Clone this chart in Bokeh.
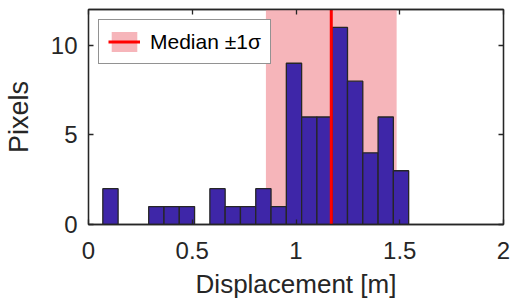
import numpy as np
from bokeh.plotting import figure
from bokeh.models import LinearAxis, FixedTicker, Legend, LegendItem, Range1d
from bokeh.embed import file_html
from bokeh.resources import INLINE

# ---- data ----
counts = [2, 0, 0, 1, 1, 1, 0, 2, 1, 1, 2, 1, 9, 6, 6, 11, 8, 4, 6, 3]
bin_start = 0.069
bin_width = 0.0737
median = 1.17
sigma = 0.315
x_ticks = [0, 0.5, 1, 1.5, 2]
x_tick_labels = ["0", "0.5", "1", "1.5", "2"]
y_ticks = [0, 5, 10]
y_tick_labels = ["0", "5", "10"]
x_lim = (0, 2)
y_lim = (0, 12)

edges = bin_start + bin_width * np.arange(len(counts) + 1)
cnt = np.array(counts)
mask = cnt > 0
lefts = edges[:-1][mask]
rights = edges[1:][mask]
tops = cnt[mask]

AX = "#262626"
FONT = "Liberation Sans"

p = figure(width=512, height=305, output_backend="svg", toolbar_location=None,
           x_range=Range1d(*x_lim), y_range=Range1d(*y_lim),
           min_border_left=88, min_border_right=9, min_border_top=9, min_border_bottom=81,
           x_axis_label="Displacement [m]", y_axis_label="Pixels")
p.background_fill_color = "white"
p.border_fill_color = "white"
p.xgrid.visible = False
p.ygrid.visible = False
p.outline_line_color = AX
p.outline_line_width = 1.3

shade = p.quad(left=[median - sigma], right=[median + sigma], bottom=[y_lim[0]], top=[y_lim[1]],
               fill_color="#F6B5BA", line_color=None)
p.quad(left=lefts, right=rights, bottom=0, top=tops,
       fill_color="#3E26A8", line_color=AX, line_width=1.3)
medline = p.line(x=[median, median], y=[y_lim[0], y_lim[1]], line_color="#FF0000", line_width=3)

def style_axis(ax, show_labels=True):
    ax.axis_line_color = AX
    ax.axis_line_width = 1.3
    ax.major_tick_line_color = AX
    ax.major_tick_line_width = 1.3
    ax.major_tick_in = 5
    ax.major_tick_out = 0
    ax.minor_tick_line_color = None
    ax.major_label_text_color = AX
    ax.major_label_text_font = FONT
    ax.axis_label_text_font = FONT
    ax.axis_label_text_color = AX
    ax.axis_label_text_font_style = "normal"
    if not show_labels:
        ax.major_label_text_color = None
        ax.major_label_standoff = 0

xa = p.xaxis[0]
ya = p.yaxis[0]
xa.ticker = FixedTicker(ticks=x_ticks)
ya.ticker = FixedTicker(ticks=y_ticks)
xa.major_label_overrides = {t: s for t, s in zip(x_ticks, x_tick_labels)}
ya.major_label_overrides = {t: s for t, s in zip(y_ticks, y_tick_labels)}
style_axis(xa)
style_axis(ya)
xa.major_label_text_font_size = "24px"
ya.major_label_text_font_size = "24px"
xa.axis_label_text_font_size = "26px"
ya.axis_label_text_font_size = "27px"
xa.major_label_standoff = 17
ya.major_label_standoff = 11
xa.axis_label_standoff = 7
ya.axis_label_standoff = 14

top_ax = LinearAxis(ticker=FixedTicker(ticks=x_ticks))
right_ax = LinearAxis(ticker=FixedTicker(ticks=y_ticks))
style_axis(top_ax, False)
style_axis(right_ax, False)
p.add_layout(top_ax, "above")
p.add_layout(right_ax, "right")

legend = Legend(items=[LegendItem(label="Median \u00b11\u03c3", renderers=[shade, medline])],
                location="top_left", margin=10, padding=9,
                glyph_width=32, glyph_height=25, label_standoff=10,
                label_text_font=FONT, label_text_font_size="21px", label_text_color="black",
                border_line_color=AX, border_line_width=1, background_fill_alpha=1.0)
p.add_layout(legend)

open("out.html", "w").write(file_html(p, INLINE))
